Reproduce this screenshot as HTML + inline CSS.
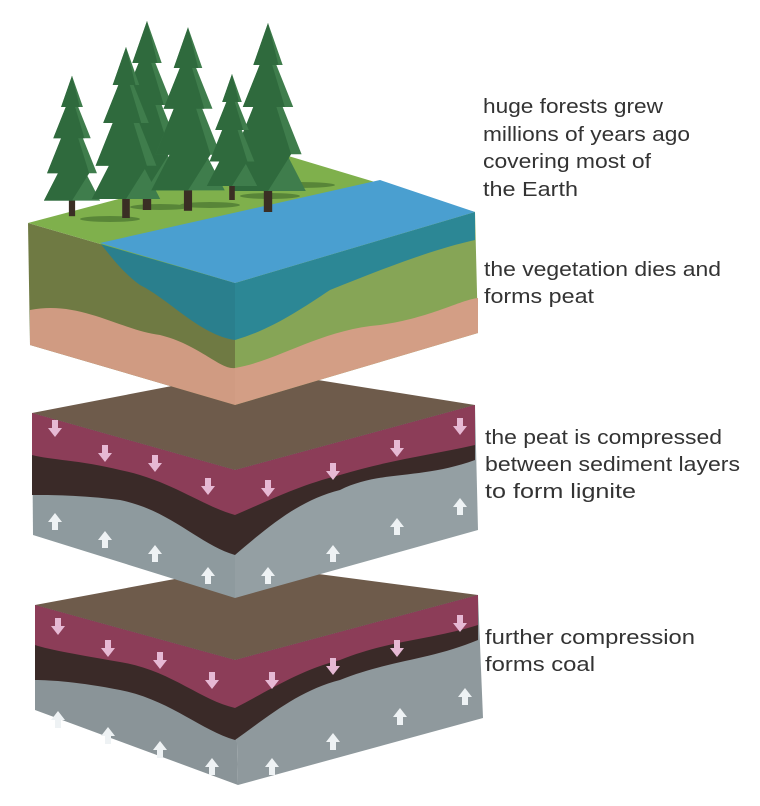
<!DOCTYPE html>
<html><head><meta charset="utf-8"><style>
html,body{margin:0;padding:0;background:#fff;width:760px;height:806px;overflow:hidden}
text{font-family:"Liberation Sans",Arial,sans-serif;font-size:20.5px;fill:#333}
</style></head><body>
<svg width="760" height="806" viewBox="0 0 760 806" xmlns="http://www.w3.org/2000/svg">
<defs>
<g id="dn"><path d="M-3,-10 h6 v8 h4 l-7,9 l-7,-9 h4z" fill="#e6b9d4"/></g>
<g id="up"><path d="M-3,10 h6 v-8 h4 l-7,-9 l-7,9 h4z" fill="#eef2f4"/></g>
<g id="tree">
<rect x="-4" y="0" width="8" height="40" fill="#3a2e24"/>
<path d="M0,-140 L14,-100 L8,-100 L24,-60 L14,-60 L32,-15 L18,-15 L36,20 L-36,20 L-18,-15 L-32,-15 L-14,-60 L-24,-60 L-8,-100 L-14,-100Z" fill="#3f7d4c"/>
<path d="M0,-140 L10,-100 L4,-100 L16,-60 L8,-60 L22,-15 L0,20 L-36,20 L-18,-15 L-32,-15 L-14,-60 L-24,-60 L-8,-100 L-14,-100Z" fill="#2f6a3d"/>
</g>
</defs>

<!-- Block 3 -->
<polygon points="35,605 250,565 478,595 235,660" fill="#6e5b4b"/>
<polygon points="35,605 235,660 238,785 35,710" fill="#8a9498"/>
<polygon points="235,660 478,595 483,718 238,785" fill="#8f999d"/>
<path d="M35,605 L235,660 L478,595 L478,640 C430,660 390,660 340,680 C300,690 270,715 235,740 C200,730 170,700 120,690 C80,682 50,680 35,680Z" fill="#3a2a28"/>
<path d="M35,605 L235,660 L478,595 L478,625 C430,640 390,640 340,660 C300,670 270,690 235,708 C200,700 170,670 120,662 C80,655 50,650 35,645Z" fill="#8c3d58"/>
<use href="#dn" x="58" y="628"/><use href="#dn" x="108" y="650"/><use href="#dn" x="160" y="662"/><use href="#dn" x="212" y="682"/>
<use href="#dn" x="272" y="682"/><use href="#dn" x="333" y="668"/><use href="#dn" x="397" y="650"/><use href="#dn" x="460" y="625"/>
<use href="#up" x="58" y="718"/><use href="#up" x="108" y="734"/><use href="#up" x="160" y="748"/><use href="#up" x="212" y="765"/>
<use href="#up" x="272" y="765"/><use href="#up" x="333" y="740"/><use href="#up" x="400" y="715"/><use href="#up" x="465" y="695"/>

<!-- Block 2 -->
<polygon points="32,413 255,370 475,405 235,470" fill="#6e5b4b"/>
<polygon points="32,413 235,470 235,598 33,535" fill="#8e9a9e"/>
<polygon points="235,470 475,405 478,530 235,598" fill="#949fa3"/>
<path d="M32,413 L235,470 L475,405 L475,460 C420,480 380,470 340,490 C300,500 270,525 235,555 C200,545 170,510 120,500 C80,495 50,495 32,495Z" fill="#3a2a28"/>
<path d="M32,413 L235,470 L475,405 L475,445 C430,455 390,460 340,475 C300,485 270,500 235,515 C200,505 170,480 120,470 C80,460 50,460 32,455Z" fill="#8c3d58"/>
<use href="#dn" x="55" y="430"/><use href="#dn" x="105" y="455"/><use href="#dn" x="155" y="465"/><use href="#dn" x="208" y="488"/>
<use href="#dn" x="268" y="490"/><use href="#dn" x="333" y="473"/><use href="#dn" x="397" y="450"/><use href="#dn" x="460" y="428"/>
<use href="#up" x="55" y="520"/><use href="#up" x="105" y="538"/><use href="#up" x="155" y="552"/><use href="#up" x="208" y="574"/>
<use href="#up" x="268" y="574"/><use href="#up" x="333" y="552"/><use href="#up" x="397" y="525"/><use href="#up" x="460" y="505"/>

<!-- Block 1 -->
<polygon points="28,223 235,283 235,405 30,345" fill="#6f7a43"/>
<polygon points="235,283 475,212 478,333 235,405" fill="#86a556"/>
<path d="M30,310 C80,300 120,330 160,335 C200,345 220,370 235,368 L235,405 L30,345Z" fill="#d09b82"/>
<path d="M235,368 C280,360 320,330 380,325 C430,318 460,300 478,298 L478,333 L235,405Z" fill="#d39e85"/>
<path d="M100,243 L235,283 L235,340 C200,335 170,300 140,285 C120,270 110,255 100,243Z" fill="#2a7f8d"/>
<path d="M235,283 L475,212 L475,240 C430,250 380,270 330,290 C300,310 270,330 235,340Z" fill="#2c8795"/>
<polygon points="28,223 285,155 475,212 235,283" fill="#7fb04c"/>
<polygon points="100,243 380,180 475,212 235,283" fill="#4a9fd0"/>
<g fill="#3f6a2b" opacity="0.6">
<ellipse cx="110" cy="219" rx="30" ry="3"/><ellipse cx="160" cy="207" rx="30" ry="3"/>
<ellipse cx="210" cy="205" rx="30" ry="3"/><ellipse cx="270" cy="196" rx="30" ry="3"/>
<ellipse cx="300" cy="185" rx="35" ry="3"/>
</g>
<use href="#tree" transform="translate(72,185) scale(0.78)"/>
<use href="#tree" transform="translate(147,168) scale(1.05)"/>
<use href="#tree" transform="translate(126,180) scale(0.95)"/>
<use href="#tree" transform="translate(188,170) scale(1.02)"/>
<use href="#tree" transform="translate(268,170) scale(1.05)"/>
<use href="#tree" transform="translate(232,172) scale(0.7)"/>

<!-- labels -->
<g>
<text x="483" y="113" textLength="180" lengthAdjust="spacingAndGlyphs">huge forests grew</text>
<text x="483" y="141" textLength="207" lengthAdjust="spacingAndGlyphs">millions of years ago</text>
<text x="483" y="168" textLength="168" lengthAdjust="spacingAndGlyphs">covering most of</text>
<text x="483" y="196" textLength="95" lengthAdjust="spacingAndGlyphs">the Earth</text>
<text x="484" y="276" textLength="237" lengthAdjust="spacingAndGlyphs">the vegetation dies and</text>
<text x="484" y="303" textLength="110" lengthAdjust="spacingAndGlyphs">forms peat</text>
<text x="485" y="444" textLength="237" lengthAdjust="spacingAndGlyphs">the peat is compressed</text>
<text x="485" y="471" textLength="255" lengthAdjust="spacingAndGlyphs">between sediment layers</text>
<text x="485" y="498" textLength="151" lengthAdjust="spacingAndGlyphs">to form lignite</text>
<text x="485" y="644" textLength="210" lengthAdjust="spacingAndGlyphs">further compression</text>
<text x="485" y="671" textLength="110" lengthAdjust="spacingAndGlyphs">forms coal</text>
</g>
</svg>
</body></html>
